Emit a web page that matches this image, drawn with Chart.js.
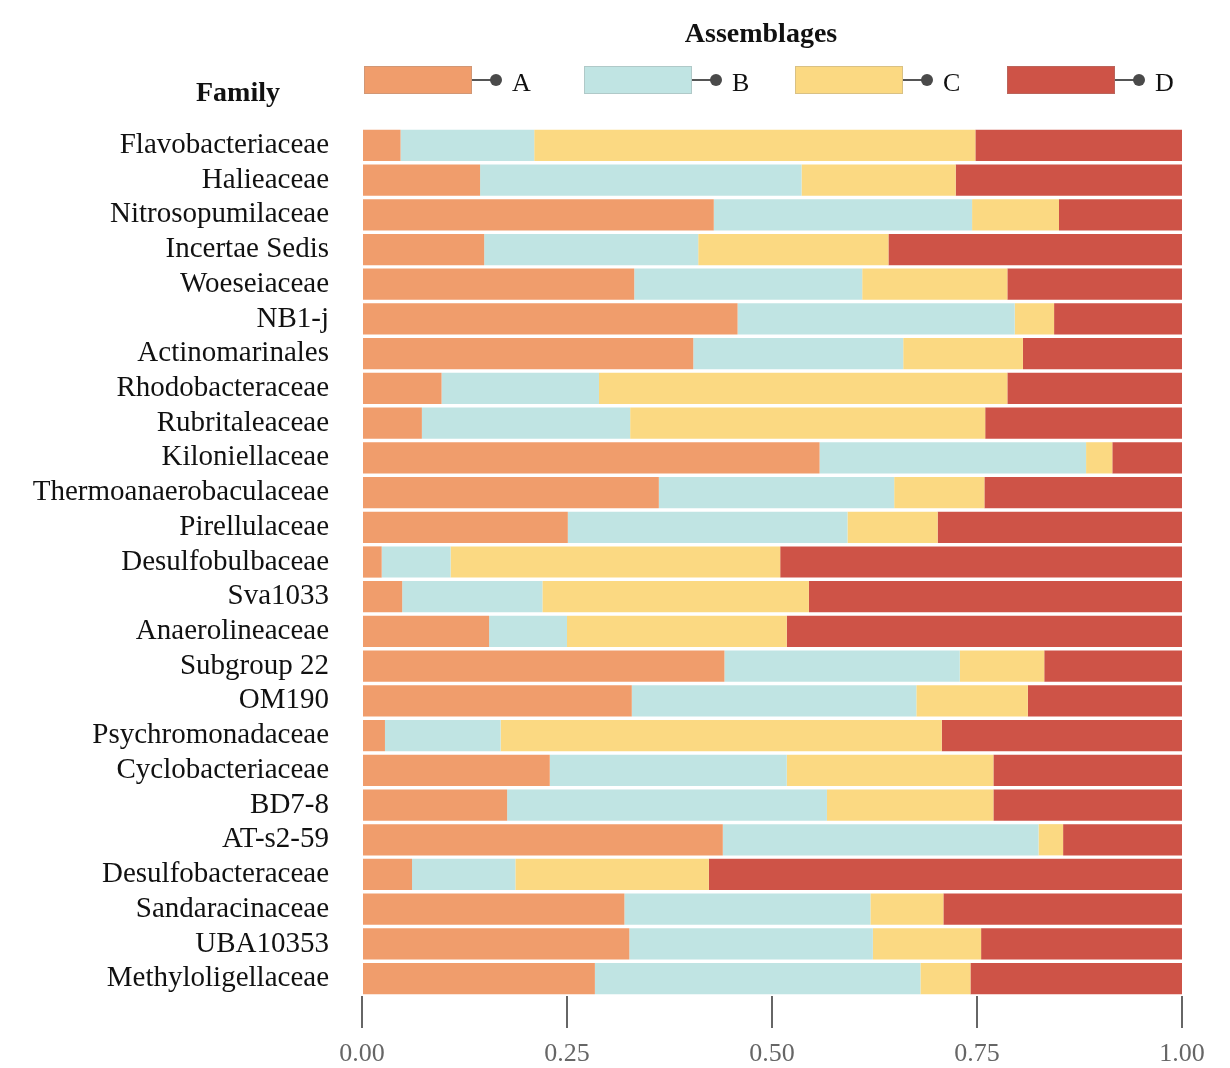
<!DOCTYPE html>
<html>
<head>
<meta charset="utf-8">
<title>Family by assemblage</title>
<script src="https://cdn.jsdelivr.net/npm/chart.js@4/dist/chart.umd.min.js"></script>
<style>
    body { margin: 0; background: #ffffff; }
    #wrap { width: 1230px; height: 1068px; }
</style>
</head>
<body>
<div id="wrap"><canvas id="barChart" width="1230" height="1068"></canvas></div>
<script>
/* =========================
   DATA
========================= */
const families = [
    "Flavobacteriaceae", "Halieaceae", "Nitrosopumilaceae", "Incertae Sedis",
    "Woeseiaceae", "NB1-j", "Actinomarinales", "Rhodobacteraceae",
    "Rubritaleaceae", "Kiloniellaceae", "Thermoanaerobaculaceae", "Pirellulaceae",
    "Desulfobulbaceae", "Sva1033", "Anaerolineaceae", "Subgroup 22",
    "OM190", "Psychromonadaceae", "Cyclobacteriaceae", "BD7-8",
    "AT-s2-59", "Desulfobacteraceae", "Sandaracinaceae", "UBA10353",
    "Methyloligellaceae"
];

const assemblages = ["A", "B", "C", "D"];

const valuesA = [0.047, 0.144, 0.429, 0.149, 0.332, 0.458, 0.404, 0.097, 0.073, 0.558,
                 0.362, 0.251, 0.024, 0.049, 0.155, 0.442, 0.329, 0.028, 0.229, 0.177,
                 0.440, 0.061, 0.320, 0.326, 0.284];
const valuesB = [0.163, 0.392, 0.315, 0.261, 0.278, 0.338, 0.256, 0.192, 0.254, 0.325,
                 0.287, 0.341, 0.084, 0.171, 0.095, 0.287, 0.347, 0.141, 0.289, 0.390,
                 0.385, 0.126, 0.300, 0.297, 0.397];
const valuesC = [0.538, 0.188, 0.106, 0.232, 0.177, 0.048, 0.146, 0.498, 0.433, 0.032,
                 0.110, 0.110, 0.402, 0.325, 0.268, 0.103, 0.136, 0.538, 0.252, 0.203,
                 0.030, 0.236, 0.089, 0.132, 0.061];
const valuesD = [0.252, 0.276, 0.150, 0.358, 0.213, 0.156, 0.194, 0.213, 0.240, 0.085,
                 0.241, 0.298, 0.490, 0.455, 0.482, 0.168, 0.188, 0.293, 0.230, 0.230,
                 0.145, 0.577, 0.291, 0.245, 0.258];

const xTicks = [0, 0.25, 0.5, 0.75, 1];

const colors = ["#F09D6C", "#C0E4E3", "#FBD982", "#CE5347"];

const SERIF = "'Liberation Serif', 'Times New Roman', serif";

/* =========================
   LEGEND + TITLES (drawn)
========================= */
const headerPlugin = {
    id: "header",
    afterDraw(chart) {
        const ctx = chart.ctx;
        ctx.save();

        ctx.fillStyle = "#111";
        ctx.font = "bold 28px " + SERIF;
        ctx.textBaseline = "alphabetic";
        ctx.textAlign = "center";
        ctx.fillText("Assemblages", 761, 42);
        ctx.fillText("Family", 238, 101);

        const startX = [364, 584, 795, 1007];
        assemblages.forEach((name, i) => {
            const x = startX[i];
            ctx.fillStyle = colors[i];
            ctx.fillRect(x, 66, 108, 28);
            ctx.strokeStyle = "rgba(140,140,140,0.3)";
            ctx.lineWidth = 1;
            ctx.strokeRect(x + 0.5, 66.5, 107, 27);

            ctx.strokeStyle = "#555";
            ctx.lineWidth = 2;
            ctx.beginPath();
            ctx.moveTo(x + 108, 80);
            ctx.lineTo(x + 132, 80);
            ctx.stroke();

            ctx.fillStyle = "#4a4a4a";
            ctx.beginPath();
            ctx.arc(x + 132, 80, 6, 0, Math.PI * 2);
            ctx.fill();

            ctx.fillStyle = "#111";
            ctx.font = "26px " + SERIF;
            ctx.textAlign = "left";
            ctx.fillText(name, x + 148, 91);
        });

        ctx.restore();
    }
};

/* =========================
   CHART
========================= */
function initChart() {

    const seriesValues = [valuesA, valuesB, valuesC, valuesD];

    const datasets = assemblages.map((name, i) => ({
        label: name,
        data: seriesValues[i],
        backgroundColor: colors[i],
        borderWidth: 0,
        barPercentage: 0.9,
        categoryPercentage: 1
    }));

    new Chart(document.getElementById("barChart"), {
        type: "bar",
        data: { labels: families, datasets: datasets },
        plugins: [headerPlugin],
        options: {
            indexAxis: "y",
            responsive: false,
            animation: false,
            layout: { padding: { top: 128, right: 48, bottom: 0, left: 0 } },
            plugins: {
                legend: { display: false },
                tooltip: { enabled: false }
            },
            scales: {
                x: {
                    stacked: true,
                    min: 0,
                    max: 1,
                    afterBuildTicks: (scale) => {
                        scale.ticks = xTicks.map(v => ({ value: v }));
                    },
                    afterFit: (scale) => { scale.height = 72; },
                    border: { display: false },
                    grid: {
                        drawOnChartArea: false,
                        drawTicks: true,
                        tickLength: 32,
                        color: "#666",
                        lineWidth: 2
                    },
                    ticks: {
                        padding: 11,
                        color: "#666",
                        font: { family: SERIF, size: 26 },
                        callback: (v) => Number(v).toFixed(2)
                    }
                },
                y: {
                    stacked: true,
                    afterFit: (scale) => { scale.width = 362; },
                    border: { display: false },
                    grid: { display: false },
                    ticks: {
                        padding: 25,
                        color: "#111",
                        autoSkip: false,
                        font: { family: SERIF, size: 29 }
                    }
                }
            }
        }
    });
}

document.addEventListener("DOMContentLoaded", () => {
    initChart();
});
</script>
</body>
</html>
